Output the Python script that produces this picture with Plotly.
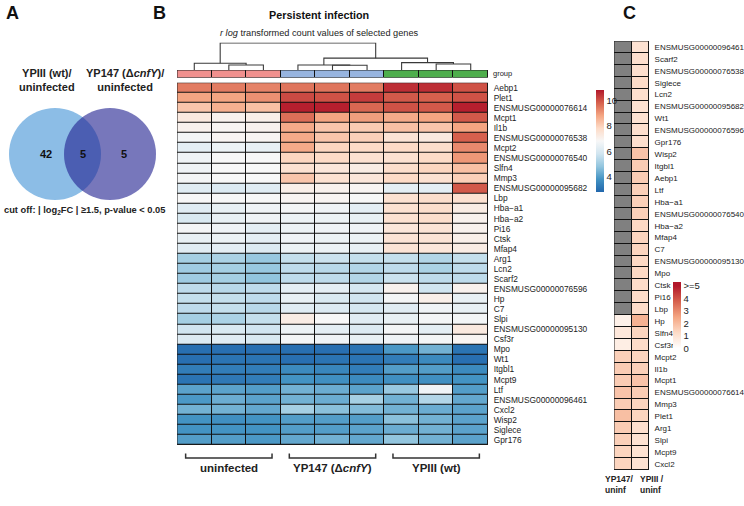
import plotly.graph_objects as go

W, H = 744, 506
FONT = "Liberation Sans, Arial, sans-serif"

# ---------------- Panel B data (rlog values) ----------------
genes_b = ["Aebp1", "Plet1", "ENSMUSG00000076614", "Mcpt1", "Il1b", "ENSMUSG00000076538",
           "Mcpt2", "ENSMUSG00000076540", "Slfn4", "Mmp3", "ENSMUSG00000095682", "Lbp",
           "Hba\u2212a1", "Hba\u2212a2", "Pi16", "Ctsk", "Mfap4", "Arg1", "Lcn2", "Scarf2",
           "ENSMUSG00000076596", "Hp", "C7", "Slpi", "ENSMUSG00000095130", "Csf3r",
           "Mpo", "Wt1", "Itgbl1", "Mcpt9", "Ltf", "ENSMUSG00000096461", "Cxcl2",
           "Wisp2", "Siglece", "Gpr176"]

uninfected = [[9.4, 9.4, 9.3], [8.8, 8.8, 9.1], [8.2, 8.6, 8.3], [7.3, 7.0, 7.1], [7.0, 6.9, 7.0],
              [6.7, 6.9, 6.9], [6.3, 6.5, 6.4], [6.6, 6.8, 6.8], [6.6, 6.8, 6.8], [6.7, 6.8, 6.8],
              [6.2, 6.1, 6.2], [6.8, 6.8, 6.8], [6.2, 6.4, 6.6], [6.0, 6.4, 6.6], [6.7, 6.6, 6.3],
              [6.4, 6.5, 6.3], [6.2, 6.3, 6.1], [5.1, 5.2, 4.9], [5.0, 5.1, 4.9], [5.0, 5.1, 4.8],
              [5.5, 5.4, 5.5], [5.6, 5.6, 5.5], [5.5, 5.6, 5.4], [5.1, 5.2, 5.6], [5.8, 6.0, 5.8],
              [6.1, 6.2, 6.0], [3.0, 3.0, 3.0], [3.0, 3.1, 3.1], [3.3, 3.3, 3.3], [3.1, 3.2, 3.3],
              [4.1, 4.1, 4.0], [3.9, 4.3, 4.1], [4.4, 4.4, 4.2], [3.8, 3.7, 3.8], [3.8, 3.8, 3.8],
              [4.0, 4.0, 3.9]]

yp147 = [[9.5, 9.5, 9.4], [10.1, 10.0, 10.3], [10.7, 10.7, 9.7], [9.6, 8.8, 8.9], [8.7, 8.2, 8.1],
         [8.7, 8.2, 8.0], [8.7, 7.9, 7.8], [7.9, 7.8, 7.6], [7.6, 7.4, 7.2], [8.2, 7.6, 7.4],
         [7.1, 7.0, 6.9], [6.9, 6.9, 6.8], [6.7, 6.6, 6.3], [6.5, 6.5, 6.4], [6.5, 6.6, 6.6],
         [6.6, 6.5, 6.5], [6.5, 6.5, 6.4], [5.6, 5.7, 5.6], [5.5, 5.4, 5.3], [5.5, 5.5, 5.3],
         [6.3, 6.3, 5.9], [6.4, 6.0, 5.8], [6.2, 6.1, 5.9], [7.2, 6.8, 6.2], [6.5, 6.3, 6.1],
         [6.7, 6.6, 6.4], [3.0, 3.0, 3.1], [3.0, 3.1, 3.1], [3.6, 3.5, 3.3], [3.8, 3.7, 3.6],
         [4.4, 4.3, 4.1], [4.4, 4.3, 5.1], [5.1, 4.7, 4.6], [4.0, 4.0, 4.0], [4.0, 4.0, 4.1],
         [4.2, 4.4, 4.2]]

ypiii = [[10.5, 10.5, 10.0], [9.9, 9.8, 10.0], [10.0, 9.9, 10.7], [8.7, 8.8, 9.9], [8.3, 8.2, 8.8],
         [7.5, 7.3, 9.8], [7.8, 7.7, 9.2], [7.6, 7.8, 9.0], [7.7, 7.9, 8.3], [7.8, 7.6, 8.0],
         [6.3, 6.3, 9.9], [7.6, 7.7, 7.6], [7.6, 7.7, 7.2], [7.6, 7.7, 7.0], [7.4, 7.5, 7.0],
         [7.5, 7.5, 7.1], [7.5, 7.4, 7.2], [5.6, 5.3, 5.6], [5.5, 5.2, 5.5], [5.7, 5.5, 5.5],
         [7.0, 5.8, 7.0], [6.7, 7.1, 6.4], [6.2, 6.6, 6.4], [6.4, 6.7, 6.7], [6.7, 6.3, 7.3],
         [6.6, 6.7, 6.9], [3.9, 4.4, 3.1], [3.3, 3.6, 3.0], [4.0, 4.0, 3.6], [3.7, 3.7, 3.8],
         [4.9, 6.6, 4.0], [4.4, 5.3, 4.2], [4.4, 4.3, 4.1], [4.7, 4.4, 4.1], [4.3, 4.4, 4.1],
         [4.8, 4.4, 4.1]]

sample_groups = [0, 0, 0, 1, 1, 1, 2, 2, 2]
group_names = ["uninfected", "YP147 (\u0394<i>cnfY</i>)", "YPIII (wt)"]
group_colors = ["#F0908E", "#97B4DF", "#4EAE4C"]
rlog_ticks = [4, 6, 8, 10]

# column dendrogram (left child, right child, merge height)
linkage = [(1, 2, 5.0), (0, 9, 6.7), (4, 5, 4.7), (3, 11, 5.0),
           (7, 8, 6.0), (6, 13, 7.3), (12, 14, 11.7), (10, 15, 26.7)]

# ---------------- Panel C data (|log2FC| vs uninfected) ----------------
genes_c = ["ENSMUSG00000096461", "Scarf2", "ENSMUSG00000076538", "Siglece", "Lcn2",
           "ENSMUSG00000095682", "Wt1", "ENSMUSG00000076596", "Gpr176", "Wisp2", "Itgbl1",
           "Aebp1", "Ltf", "Hba\u2212a1", "ENSMUSG00000076540", "Hba\u2212a2", "Mfap4", "C7",
           "ENSMUSG00000095130", "Mpo", "Ctsk", "Pi16", "Lbp", "Hp", "Slfn4", "Csf3r", "Mcpt2",
           "Il1b", "Mcpt1", "ENSMUSG00000076614", "Mmp3", "Plet1", "Arg1", "Slpi", "Mcpt9", "Cxcl2"]
fc_yp147 = [None] * 23 + [0.5, 0.8, 0.6, 1.5, 1.6, 1.6, 1.8, 1.6, 1.9, 1.6, 1.5, 1.4, 1.4]
fc_ypiii = [1.0, 1.1, 1.1, 1.2, 1.1, 1.0, 1.0, 1.1, 1.1, 1.8, 1.6, 1.6, 1.5, 1.5, 1.5, 1.3,
            1.4, 1.4, 1.3, 1.3, 1.2, 1.2, 1.2, 2.2, 1.4, 1.2, 1.4, 1.5, 1.8, 1.6, 1.4, 1.4,
            1.1, 1.0, 1.0, 1.0]
fc_ticks = [0, 1, 2, 3, 4, 5]
fc_ticktext = ["0", "1", "2", "3", "4", ">=5"]
column_labels_c = ["YP147/<br>uninf", "YPIII /<br>uninf"]

# ---------------- Panel A data ----------------
venn_counts = [42, 5, 5]
venn_sets = ["YPIII (wt)/<br>uninfected", "YP147 (\u0394<i>cnfY</i>)/<br>uninfected"]


def fx(x):
    return x / W


def fy(y):
    return 1 - y / H


def note(x, y, text, size, xanchor="center", yanchor="middle", color="#222", align="center"):
    return dict(x=fx(x), y=fy(y), xref="paper", yref="paper", text=text, showarrow=False,
                xanchor=xanchor, yanchor=yanchor, align=align,
                font=dict(size=size, family=FONT, color=color))


fig = go.Figure()

# ---- B heatmap ----
z_b = [u + p + w for u, p, w in zip(uninfected, yp147, ypiii)]
cs_b = [[0, "#2166AC"], [0.125, "#4393C3"], [0.25, "#92C5DE"], [0.375, "#D1E5F0"],
        [0.5, "#F7F7F7"], [0.625, "#FDDBC7"], [0.75, "#F4A582"], [0.875, "#D6604D"],
        [1, "#B2182B"]]
cb_top, cb_bot = 90, 192
fig.add_trace(go.Heatmap(
    z=z_b, x=list(range(9)), y=list(range(len(genes_b))), colorscale=cs_b,
    zmin=2.8, zmax=10.8, xgap=1, ygap=1, hoverinfo="skip",
    colorbar=dict(thickness=8, len=(cb_bot - cb_top) / H, lenmode="fraction",
                  x=fx(596), xanchor="left", y=fy((cb_top + cb_bot) / 2), yanchor="middle",
                  xpad=0, ypad=0, outlinewidth=0, tickvals=rlog_ticks, ticks="",
                  tickfont=dict(size=9.5, family=FONT, color="#222")),
    xaxis="x", yaxis="y"))

# ---- group bar ----
cs_g = []
for i, c in enumerate(group_colors):
    cs_g += [[i / 3, c], [(i + 1) / 3, c]]
cs_g[-1][0] = 1
fig.add_trace(go.Heatmap(z=[[g + 0.5 for g in sample_groups]], x=list(range(9)), y=[0],
                         colorscale=cs_g, zmin=0, zmax=3, showscale=False, xgap=1,
                         hoverinfo="skip", xaxis="x2", yaxis="y2"))

# ---- dendrogram ----
pos = {i: float(i) for i in range(9)}
hgt = {i: 0.0 for i in range(9)}
dx, dy = [], []
for k, (a, b, h) in enumerate(linkage):
    dx += [pos[a], pos[a], pos[b], pos[b], None]
    dy += [hgt[a], h, h, hgt[b], None]
    pos[9 + k] = (pos[a] + pos[b]) / 2
    hgt[9 + k] = h
fig.add_trace(go.Scatter(x=dx, y=dy, mode="lines", line=dict(color="#3a3a3a", width=1.1),
                         hoverinfo="skip", showlegend=False, xaxis="x3", yaxis="y3"))

# ---- C heatmap ----
na_mask = [[1 if a is None else None, 1 if b is None else None] for a, b in zip(fc_yp147, fc_ypiii)]
fig.add_trace(go.Heatmap(z=na_mask, x=[0, 1], y=list(range(len(genes_c))),
                         colorscale=[[0, "#808080"], [1, "#808080"]], showscale=False,
                         xgap=1, ygap=1, hoverinfo="skip", xaxis="x4", yaxis="y4"))
c_lo, c_hi = -0.3, 5.3
stops_v = [0, 1.25, 2.5, 3.75, 5]
stops_c = ["#FFFFFF", "#FDDBC7", "#F4A582", "#D6604D", "#B2182B"]
cs_c = [[0, "#FFFFFF"]] + [[(v - c_lo) / (c_hi - c_lo), c] for v, c in zip(stops_v, stops_c)] + [[1, "#B2182B"]]
z_c = [[a, b] for a, b in zip(fc_yp147, fc_ypiii)]
ccb_top, ccb_bot = 282, 352
fig.add_trace(go.Heatmap(
    z=z_c, x=[0, 1], y=list(range(len(genes_c))), colorscale=cs_c, zmin=c_lo, zmax=c_hi,
    xgap=1, ygap=1, hoverinfo="skip",
    colorbar=dict(thickness=8, len=(ccb_bot - ccb_top) / H, lenmode="fraction",
                  x=fx(673), xanchor="left", y=fy((ccb_top + ccb_bot) / 2), yanchor="middle",
                  xpad=0, ypad=0, outlinewidth=0, tickvals=fc_ticks, ticktext=fc_ticktext,
                  ticks="", tickfont=dict(size=9.5, family=FONT, color="#222")),
    xaxis="x4", yaxis="y4"))

hm_x = [fx(177), fx(488)]
hidden = dict(showgrid=False, zeroline=False, showticklabels=False, ticks="", showline=False)
fig.update_layout(
    width=W, height=H, margin=dict(l=0, r=0, t=0, b=0),
    paper_bgcolor="white", plot_bgcolor="rgba(0,0,0,0)", showlegend=False,
    font=dict(family=FONT, color="#222"),
    xaxis=dict(domain=hm_x, range=[-0.5, 8.5], anchor="y", **hidden),
    yaxis=dict(domain=[fy(445), fy(82.7)], range=[35.5, -0.5], anchor="x", side="right",
               tickvals=list(range(len(genes_b))), ticktext=genes_b, showgrid=False,
               zeroline=False, showline=False, ticks="outside", ticklen=3,
               tickcolor="rgba(0,0,0,0)", tickfont=dict(size=8.4, family=FONT, color="#222")),
    xaxis2=dict(domain=hm_x, range=[-0.5, 8.5], anchor="y2", **hidden),
    yaxis2=dict(domain=[fy(77.5), fy(70)], range=[-0.5, 0.5], anchor="x2", **hidden),
    xaxis3=dict(domain=hm_x, range=[-0.5, 8.5], anchor="y3", **hidden),
    yaxis3=dict(domain=[fy(70), fy(42.5)], range=[0, 27.2], anchor="x3", **hidden),
    xaxis4=dict(domain=[fx(614), fx(649)], range=[-0.5, 1.5], anchor="y4", **hidden),
    yaxis4=dict(domain=[fy(470), fy(41)], range=[35.5, -0.5], anchor="x4", side="right",
                tickvals=list(range(len(genes_c))), ticktext=genes_c, showgrid=False,
                zeroline=False, showline=False, ticks="outside", ticklen=3,
                tickcolor="rgba(0,0,0,0)", tickfont=dict(size=8, family=FONT, color="#222")),
)

shapes = []
for xr, yr, x0, x1, y0, y1 in [("x", "y", -0.5, 8.5, -0.5, 35.5), ("x2", "y2", -0.5, 8.5, -0.5, 0.5),
                               ("x4", "y4", -0.5, 1.5, -0.5, 35.5)]:
    shapes.append(dict(type="rect", xref=xr, yref=yr, x0=x0, x1=x1, y0=y0, y1=y1,
                       fillcolor="#111", line=dict(width=0), layer="below"))
    shapes.append(dict(type="rect", xref=xr, yref=yr, x0=x0, x1=x1, y0=y0, y1=y1,
                       fillcolor="rgba(0,0,0,0)", line=dict(color="#222", width=1), layer="above"))

annotations = []
for g, name in enumerate(group_names):
    cols = [i for i, s in enumerate(sample_groups) if s == g]
    c = sum(cols) / len(cols)
    x0, x1 = c - 1.25, c + 1.25
    shapes.append(dict(type="path", xref="x", yref="paper",
                       path=f"M {x0},{fy(453.5)} L {x0},{fy(458)} L {x1},{fy(458)} L {x1},{fy(453.5)}",
                       line=dict(color="#333", width=1.5)))
    annotations.append(dict(x=c, y=fy(467.5), xref="x", yref="paper", text=f"<b>{name}</b>",
                            showarrow=False, xanchor="center", yanchor="middle",
                            font=dict(size=11.5, family=FONT, color="#222")))

# Venn (panel A)
r = 46
cy = 154
left_c, right_c = 55, 110
shapes.append(dict(type="circle", xref="paper", yref="paper", x0=fx(left_c - r), x1=fx(left_c + r),
                   y0=fy(cy + r), y1=fy(cy - r), fillcolor="#8CBDE6", line=dict(width=0), layer="above"))
shapes.append(dict(type="circle", xref="paper", yref="paper", x0=fx(right_c - r), x1=fx(right_c + r),
                   y0=fy(cy + r), y1=fy(cy - r), fillcolor="#242491", opacity=0.62,
                   line=dict(width=0), layer="above"))
for xpos, n in zip([46, (left_c + right_c) / 2, 124], venn_counts):
    annotations.append(note(xpos, cy, f"<b>{n}</b>", 11, color="#111"))
for xpos, t in zip([47, 125], venn_sets):
    annotations.append(note(xpos, 80, f"<b>{t}</b>", 11))
annotations.append(note(2, 210, "<b>cut off: | log<sub>2</sub>FC | \u22651.5, p-value &lt; 0.05</b>",
                        9.3, xanchor="left"))

# panel letters
for xpos, t in [(4, "A"), (151, "B"), (621, "C")]:
    annotations.append(note(xpos, 1, f"<b>{t}</b>", 18, xanchor="left", yanchor="top", color="#111"))

# titles panel B
annotations.append(note(319, 15, "<b>Persistent infection</b>", 10.8, color="#111"))
annotations.append(note(319, 33, "<i>r log</i> transformed count values of selected genes", 9.2))
annotations.append(note(491, 73.5, "group", 7.5, xanchor="left"))

# panel C column labels
for xpos, t in zip([603, 638], column_labels_c):
    annotations.append(note(xpos, 484, f"<b>{t}</b>", 8.5, xanchor="left", align="left"))

fig.update_layout(shapes=shapes, annotations=annotations)
fig.write_html("out.html", config={"displayModeBar": False},
               post_script="document.body.style.margin='0';")
